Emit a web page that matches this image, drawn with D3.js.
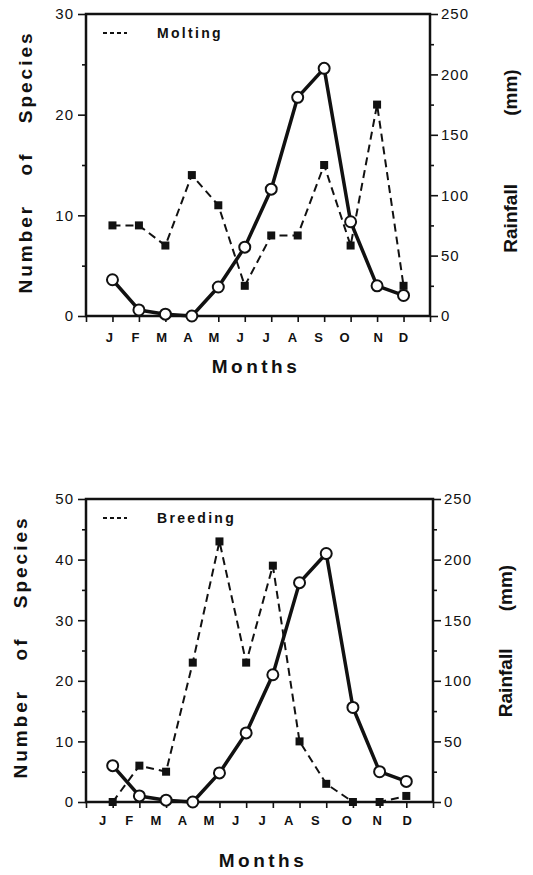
<!DOCTYPE html>
<html>
<head>
<meta charset="utf-8">
<script src="https://cdn.jsdelivr.net/npm/d3@7"></script>
<style>
  body { margin: 0; background: #fff; }
  text { font-family: "Liberation Sans", Arial, Helvetica, sans-serif; fill: #111; }
</style>
</head>
<body>
<div id="chart"></div>
<script>
// values
var months = ["J", "F", "M", "A", "M", "J", "J", "A", "S", "O", "N", "D"];
var rainfall = [30, 5, 1.5, 0, 24, 57, 105, 181, 205, 78, 25, 17];   // mm, same in both panels
var molting = [9, 9, 7, 14, 11, 3, 8, 8, 15, 7, 21, 3];
var breeding = [0, 6, 5, 23, 43, 23, 39, 10, 3, 0, 0, 1];
var speciesTicksTop = [0, 10, 20, 30];
var speciesTicksBottom = [0, 10, 20, 30, 40, 50];
var rainTicks = [0, 50, 100, 150, 200, 250];

var svg = d3.select("#chart").append("svg")
  .attr("width", 533)
  .attr("height", 875);

function styleAxis(sel) {
  sel.select(".domain").remove();
  sel.selectAll(".tick line").attr("stroke", "#111").attr("stroke-width", 1.6);
  sel.selectAll(".tick text")
    .style("font-size", "15px")
    .style("letter-spacing", "1px")
    .attr("fill", "#111");
}

function drawPanel(cfg) {
  var x = d3.scaleLinear().domain([0, 13]).range([cfg.left, cfg.right]);
  var y = d3.scaleLinear().domain([0, cfg.yMax]).range([cfg.bottom, cfg.top]);
  var yRain = d3.scaleLinear().domain([0, 250]).range([cfg.bottom, cfg.top]);
  var g = svg.append("g");

  // minor ticks
  g.append("g").attr("transform", "translate(" + cfg.left + ",0)")
    .call(d3.axisLeft(y).tickValues(d3.range(5, cfg.yMax, 10)).tickSize(4).tickFormat(""))
    .call(styleAxis);
  g.append("g").attr("transform", "translate(" + cfg.right + ",0)")
    .call(d3.axisRight(yRain).tickValues(d3.range(25, 250, 50)).tickSize(4).tickFormat(""))
    .call(styleAxis);

  // major ticks
  g.append("g").attr("transform", "translate(" + cfg.left + ",0)")
    .call(d3.axisLeft(y).tickValues(cfg.yTicks).tickSize(8).tickPadding(4))
    .call(styleAxis);
  g.append("g").attr("transform", "translate(" + cfg.right + ",0)")
    .call(d3.axisRight(yRain).tickValues(rainTicks).tickSize(8).tickPadding(3))
    .call(styleAxis);
  g.append("g").attr("transform", "translate(0," + cfg.bottom + ")")
    .call(d3.axisBottom(x).tickValues(d3.range(0, 14)).tickSize(6).tickFormat(""))
    .call(styleAxis);

  // frame
  g.append("rect")
    .attr("x", cfg.left).attr("y", cfg.top)
    .attr("width", cfg.right - cfg.left).attr("height", cfg.bottom - cfg.top)
    .attr("fill", "none").attr("stroke", "#111").attr("stroke-width", 2.5);

  // month letters (slightly off the ticks, as in the print)
  var labelX = d3.scaleLinear().domain(cfg.labelKnots)
    .range(cfg.labelKnots.map(function(k, i) { return x(k) + cfg.labelShift[i]; }));
  g.selectAll(".month")
    .data(months)
    .enter().append("text")
    .attr("x", function(d, i) { return labelX(i + 1); })
    .attr("y", cfg.monthY)
    .attr("text-anchor", "middle")
    .style("font-size", "13px")
    .style("font-weight", "bold")
    .text(function(d) { return d; });

  g.append("text")
    .attr("x", cfg.titleX).attr("y", cfg.titleY)
    .attr("text-anchor", "middle")
    .style("font-size", "19px").style("font-weight", "bold")
    .style("letter-spacing", "3.5px")
    .text("Months");

  g.append("text")
    .attr("transform", "translate(" + cfg.leftTitleX + "," + cfg.leftTitleY + ") rotate(-90)")
    .attr("text-anchor", "middle")
    .style("font-size", "19px").style("font-weight", "bold")
    .style("letter-spacing", "3px").style("word-spacing", "20px")
    .text("Number of Species");

  g.append("text")
    .attr("transform", "translate(" + cfg.rightTitleX + "," + cfg.rightTitleY + ") rotate(-90)")
    .attr("text-anchor", "middle")
    .style("font-size", "19px").style("font-weight", "bold")
    .style("word-spacing", cfg.rainGap + "px")
    .text("Rainfall (mm)");

  // legend
  g.append("line")
    .attr("x1", 103).attr("x2", 127)
    .attr("y1", cfg.legendY).attr("y2", cfg.legendY)
    .attr("stroke", "#111").attr("stroke-width", 1.8)
    .attr("stroke-dasharray", "4,3");
  g.append("text")
    .attr("x", 157).attr("y", cfg.legendY + 5)
    .style("font-size", "14px").style("font-weight", "bold")
    .style("letter-spacing", "2.3px")
    .text(cfg.name);

  // species series: dashed line with filled squares
  var speciesLine = d3.line()
    .x(function(d, i) { return x(i + 1); })
    .y(function(d) { return y(d); });
  g.append("path")
    .datum(cfg.series)
    .attr("d", speciesLine)
    .attr("fill", "none").attr("stroke", "#111")
    .attr("stroke-width", 2).attr("stroke-dasharray", "8,5");
  g.selectAll(".sq")
    .data(cfg.series)
    .enter().append("rect")
    .attr("x", function(d, i) { return x(i + 1) - 4; })
    .attr("y", function(d) { return y(d) - 4; })
    .attr("width", 8).attr("height", 8)
    .attr("fill", "#111");

  // rainfall: thick solid line with open circles
  var rainLine = d3.line()
    .x(function(d, i) { return x(i + 1); })
    .y(function(d) { return yRain(d); });
  g.append("path")
    .datum(rainfall)
    .attr("d", rainLine)
    .attr("fill", "none").attr("stroke", "#111")
    .attr("stroke-width", 3.5).attr("stroke-linejoin", "round");
  g.selectAll(".dot")
    .data(rainfall)
    .enter().append("circle")
    .attr("cx", function(d, i) { return x(i + 1); })
    .attr("cy", function(d) { return yRain(d); })
    .attr("r", 5.5)
    .attr("fill", "#fff").attr("stroke", "#111").attr("stroke-width", 2);
}

drawPanel({
  name: "Molting", series: molting,
  top: 14, bottom: 316, left: 86, right: 430,
  yMax: 30, yTicks: speciesTicksTop,
  labelKnots: [1, 10, 11, 12], labelShift: [-3, -6, 1, 0],
  monthY: 342, titleX: 256, titleY: 373,
  leftTitleX: 32, leftTitleY: 162,
  rightTitleX: 517, rightTitleY: 161, rainGap: 63,
  legendY: 33
});

drawPanel({
  name: "Breeding", series: breeding,
  top: 499, bottom: 802, left: 86, right: 433,
  yMax: 50, yTicks: speciesTicksBottom,
  labelKnots: [1, 9, 10, 12], labelShift: [-10, -11, -6, 1],
  monthY: 825, titleX: 263, titleY: 867,
  leftTitleX: 27, leftTitleY: 647,
  rightTitleX: 512, rightTitleY: 641, rainGap: 32,
  legendY: 518
});
</script>
</body>
</html>
